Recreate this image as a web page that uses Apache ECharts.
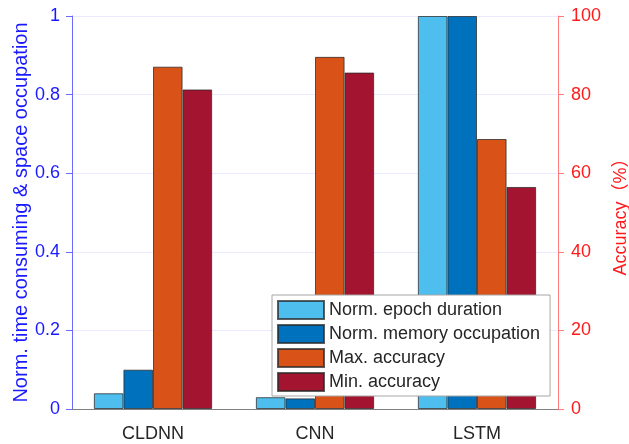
<!DOCTYPE html>
<html>
<head>
<meta charset="utf-8">
<script src="https://cdn.jsdelivr.net/npm/echarts@6/dist/echarts.min.js"></script>
<style>
html,body{margin:0;padding:0;background:#fff;}
#main{width:629px;height:444px;}
</style>
</head>
<body>
<div id="main"></div>
<script>
const categories = ['CLDNN', 'CNN', 'LSTM'];
const seriesNames = ['Norm. epoch duration', 'Norm. memory occupation', 'Max. accuracy', 'Min. accuracy'];
const epochDuration = [0.04, 0.03, 1.0];
const memoryOccupation = [0.10, 0.027, 1.0];
const maxAccuracy = [87.1, 89.6, 68.7];
const minAccuracy = [81.3, 85.6, 56.5];
const leftTicks = [0, 0.2, 0.4, 0.6, 0.8, 1];
const rightTicks = [0, 20, 40, 60, 80, 100];

const colors = ['#4DBEEE', '#0072BD', '#D95319', '#A2142F'];
const FONT = '"Liberation Sans", Arial, "Noto Sans CJK SC", sans-serif';

const chart = echarts.init(document.getElementById('main'), null, {renderer: 'canvas'});
const barItem = (c) => ({color: c, borderColor: 'rgba(40,40,40,0.75)', borderWidth: 1});
const datasets = [epochDuration, memoryOccupation, maxAccuracy, minAccuracy];

chart.setOption({
  animation: false,
  backgroundColor: '#fff',
  textStyle: {fontFamily: FONT},
  grid: {left: 72, right: 71, top: 16, bottom: 35, outerBoundsMode: 'none', containLabel: false},
  legend: {
    orient: 'vertical',
    left: 272, top: 295,
    padding: [5, 10, 4, 5],
    itemWidth: 46, itemHeight: 18, itemGap: 4,
    icon: 'rect',
    backgroundColor: '#fff',
    borderColor: '#a6a6a6', borderWidth: 1,
    textStyle: {fontSize: 18, color: '#262626', fontFamily: FONT},
    data: seriesNames
  },
  xAxis: {
    type: 'category',
    data: categories,
    axisLine: {lineStyle: {color: '#808080', width: 1}},
    axisTick: {alignWithLabel: true, length: 6, lineStyle: {color: '#808080'}},
    axisLabel: {fontSize: 18, color: '#262626', margin: 16, fontFamily: FONT}
  },
  yAxis: [{
    type: 'value', min: leftTicks[0], max: leftTicks[leftTicks.length - 1], interval: 0.2,
    position: 'left',
    name: 'Norm. time consuming & space occupation',
    nameLocation: 'middle', nameRotate: 90, nameGap: 41, nameMoveOverlap: false,
    nameTextStyle: {fontSize: 20, color: '#1a1aff', fontFamily: FONT},
    axisLine: {show: true, lineStyle: {color: '#6a6aff'}},
    axisTick: {show: true, length: 6, lineStyle: {color: '#6a6aff'}},
    axisLabel: {fontSize: 18, color: '#1a1aff', margin: 12, fontFamily: FONT},
    splitLine: {show: true, lineStyle: {color: '#ebebff'}}
  }, {
    type: 'value', min: rightTicks[0], max: rightTicks[rightTicks.length - 1], interval: 20,
    position: 'right',
    name: 'Accuracy（%）',
    nameLocation: 'middle', nameRotate: 90, nameGap: 52,
    nameTextStyle: {fontSize: 18, color: '#ff1a1a', fontFamily: FONT},
    axisLine: {show: true, lineStyle: {color: '#ff7a7a'}},
    axisTick: {show: true, length: 6, lineStyle: {color: '#ff7a7a'}},
    axisLabel: {fontSize: 18, color: '#ff1a1a', margin: 13, fontFamily: FONT},
    splitLine: {show: false}
  }],
  series: seriesNames.map((n, i) => ({
    name: n,
    type: 'bar',
    yAxisIndex: i < 2 ? 0 : 1,
    data: datasets[i],
    barGap: '0%',
    barCategoryGap: '27%',
    itemStyle: barItem(colors[i])
  }))
});
</script>
</body>
</html>
